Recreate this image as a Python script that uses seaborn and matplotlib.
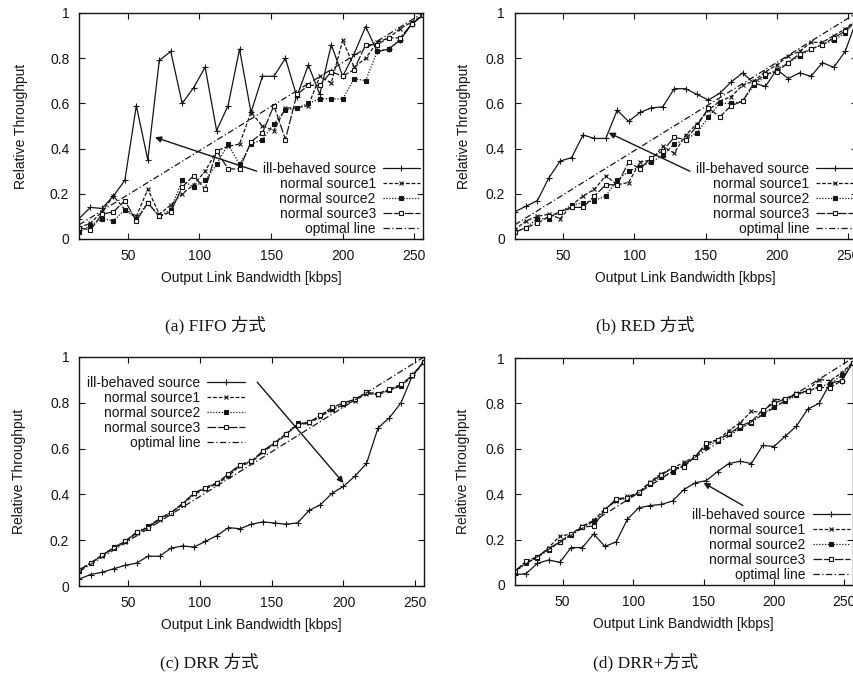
import numpy as np
import pandas as pd
import matplotlib
matplotlib.use("Agg")
import matplotlib.pyplot as plt
import seaborn as sns

sns.set_theme(style="ticks")
plt.rcParams["font.family"] = ["Liberation Sans", "DejaVu Sans"]
plt.rcParams["font.size"] = 10

# ── data ────────────────────────────────────────────────────
bandwidth = [16, 24, 32, 40, 48, 56, 64, 72, 80, 88, 96, 104, 112, 120, 128, 136,
             144, 152, 160, 168, 176, 184, 192, 200, 208, 216, 224, 232, 240, 248, 256]
optimal_x = [16, 256]
optimal_y = [0.0625, 1.0]

fifo_ill = [0.09, 0.14, 0.135, 0.19, 0.26, 0.59, 0.35, 0.79, 0.83, 0.60, 0.67, 0.76, 0.48, 0.59, 0.84, 0.56,
            0.72, 0.72, 0.80, 0.63, 0.77, 0.64, 0.86, 0.72, 0.82, 0.94, 0.83, 0.84, 0.88, 0.95, 0.99]
fifo_src1 = [0.05, 0.07, 0.12, 0.19, 0.13, 0.10, 0.22, 0.11, 0.15, 0.20, 0.24, 0.30, 0.39, 0.41, 0.42, 0.56,
             0.50, 0.48, 0.58, 0.58, 0.59, 0.72, 0.69, 0.88, 0.76, 0.80, 0.87, 0.89, 0.93, 0.96, 0.99]
fifo_src2 = [0.03, 0.06, 0.09, 0.08, 0.13, 0.09, 0.16, 0.10, 0.13, 0.26, 0.23, 0.26, 0.33, 0.42, 0.33, 0.42,
             0.44, 0.51, 0.57, 0.58, 0.60, 0.62, 0.62, 0.62, 0.71, 0.70, 0.83, 0.84, 0.88, 0.95, 0.99]
fifo_src3 = [0.05, 0.04, 0.11, 0.12, 0.17, 0.08, 0.16, 0.10, 0.12, 0.23, 0.28, 0.22, 0.39, 0.31, 0.31, 0.43,
             0.47, 0.59, 0.44, 0.64, 0.68, 0.68, 0.74, 0.72, 0.75, 0.86, 0.86, 0.89, 0.89, 0.95, 0.99]

red_ill = [0.12, 0.145, 0.17, 0.27, 0.345, 0.36, 0.46, 0.445, 0.445, 0.57, 0.52, 0.56, 0.58, 0.585, 0.665, 0.665,
           0.64, 0.615, 0.645, 0.695, 0.735, 0.69, 0.675, 0.75, 0.71, 0.735, 0.72, 0.78, 0.76, 0.83, 0.97]
red_src1 = [0.04, 0.08, 0.10, 0.11, 0.09, 0.15, 0.19, 0.22, 0.28, 0.24, 0.25, 0.34, 0.35, 0.41, 0.38, 0.46,
            0.51, 0.57, 0.61, 0.63, 0.68, 0.70, 0.74, 0.77, 0.81, 0.83, 0.87, 0.87, 0.90, 0.93, 0.97]
red_src2 = [0.03, 0.05, 0.09, 0.09, 0.12, 0.15, 0.16, 0.17, 0.19, 0.26, 0.30, 0.32, 0.34, 0.37, 0.42, 0.44,
            0.47, 0.54, 0.60, 0.60, 0.61, 0.68, 0.72, 0.75, 0.78, 0.81, 0.84, 0.86, 0.88, 0.91, 0.97]
red_src3 = [0.03, 0.05, 0.07, 0.10, 0.12, 0.14, 0.14, 0.19, 0.24, 0.24, 0.34, 0.31, 0.36, 0.39, 0.45, 0.44,
            0.50, 0.58, 0.54, 0.59, 0.61, 0.69, 0.73, 0.74, 0.78, 0.82, 0.84, 0.86, 0.89, 0.92, 0.97]

drr_ill = [0.03, 0.05, 0.06, 0.075, 0.09, 0.10, 0.13, 0.13, 0.165, 0.175, 0.17, 0.195, 0.22, 0.255, 0.25, 0.27,
           0.28, 0.275, 0.27, 0.275, 0.33, 0.355, 0.405, 0.435, 0.48, 0.535, 0.69, 0.735, 0.80, 0.92, 0.98]
drr_src1 = [0.07, 0.10, 0.13, 0.165, 0.19, 0.23, 0.255, 0.29, 0.32, 0.355, 0.40, 0.425, 0.445, 0.48, 0.525, 0.54,
            0.585, 0.62, 0.66, 0.705, 0.71, 0.74, 0.77, 0.79, 0.81, 0.84, 0.835, 0.855, 0.875, 0.915, 0.98]
drr_src2 = [0.065, 0.10, 0.135, 0.17, 0.195, 0.235, 0.26, 0.295, 0.32, 0.36, 0.405, 0.43, 0.45, 0.485, 0.53, 0.545,
            0.59, 0.625, 0.665, 0.71, 0.715, 0.745, 0.775, 0.795, 0.815, 0.845, 0.84, 0.855, 0.875, 0.92, 0.98]
drr_src3 = [0.07, 0.10, 0.135, 0.165, 0.195, 0.235, 0.255, 0.295, 0.32, 0.36, 0.405, 0.43, 0.45, 0.49, 0.53, 0.545,
            0.59, 0.625, 0.665, 0.705, 0.715, 0.745, 0.78, 0.80, 0.815, 0.845, 0.84, 0.86, 0.88, 0.92, 0.98]

drrp_ill = [0.045, 0.05, 0.095, 0.11, 0.10, 0.165, 0.165, 0.225, 0.17, 0.19, 0.29, 0.34, 0.35, 0.355, 0.37, 0.42,
            0.45, 0.46, 0.50, 0.535, 0.545, 0.535, 0.615, 0.61, 0.655, 0.70, 0.775, 0.80, 0.89, 0.90, 0.98]
drrp_src1 = [0.06, 0.10, 0.12, 0.165, 0.215, 0.225, 0.26, 0.285, 0.335, 0.37, 0.39, 0.405, 0.455, 0.49, 0.515, 0.54,
             0.565, 0.62, 0.64, 0.68, 0.715, 0.765, 0.76, 0.815, 0.82, 0.845, 0.855, 0.905, 0.90, 0.935, 0.98]
drrp_src2 = [0.055, 0.095, 0.12, 0.155, 0.19, 0.22, 0.255, 0.28, 0.33, 0.375, 0.38, 0.405, 0.445, 0.475, 0.50, 0.525,
             0.565, 0.61, 0.635, 0.665, 0.69, 0.715, 0.755, 0.785, 0.81, 0.835, 0.855, 0.875, 0.885, 0.925, 0.98]
drrp_src3 = [0.06, 0.105, 0.125, 0.16, 0.19, 0.225, 0.255, 0.26, 0.33, 0.38, 0.385, 0.41, 0.45, 0.485, 0.515, 0.52,
             0.565, 0.625, 0.64, 0.665, 0.70, 0.72, 0.77, 0.80, 0.82, 0.84, 0.855, 0.87, 0.87, 0.90, 0.98]

series_labels = ["ill-behaved source", "normal source1", "normal source2", "normal source3"]
captions = ["(a) FIFO 方式", "(b) RED 方式", "(c) DRR 方式", "(d) DRR+方式"]
y_ticks = [0, 0.2, 0.4, 0.6, 0.8, 1]
y_ticklabels = ["0", "0.2", "0.4", "0.6", "0.8", "1"]
x_ticks = [50, 100, 150, 200, 250]

panels = [
    [fifo_ill, fifo_src1, fifo_src2, fifo_src3],
    [red_ill, red_src1, red_src2, red_src3],
    [drr_ill, drr_src1, drr_src2, drr_src3],
    [drrp_ill, drrp_src1, drrp_src2, drrp_src3],
]

# ── styling ────────────────────────────────────────────────
INK = "#151515"
styles = [
    dict(linestyle="-", marker="+", markersize=4, mfc=INK),
    dict(linestyle=(0, (3, 1.5)), marker="x", markersize=3.5, mfc=INK),
    dict(linestyle=(0, (1, 1.3)), marker="s", markersize=2.5, mfc=INK),
    dict(linestyle=(0, (7, 1.5)), marker="s", markersize=3.5, mfc="white"),
]
opt_style = dict(linestyle=(0, (5, 2, 1, 2)))

# axes rectangles in figure fractions (854 x 686 px)
W, H = 854, 686
rects = [
    (79 / W, 1 - 239 / H, 344 / W, 226 / H),
    (514.6 / W, 1 - 239 / H, 342 / W, 226 / H),
    (79 / W, 1 - 586 / H, 345 / W, 229 / H),
    (514.8 / W, 1 - 585 / H, 338 / W, 227 / H),
]
ylab_x = [-0.148, -0.128, -0.154, -0.132]
caption_pos = [(215, 325), (645, 325), (209, 662), (646, 662)]
# arrows: (tail, head) in data coordinates
arrows = [((140, 0.30), (69, 0.45)),
          ((139, 0.30), (82, 0.47)),
          ((140, 0.89), (200, 0.45)),
          ((178, 0.35), (150, 0.45))]

fig = plt.figure(figsize=(W / 100, H / 100), dpi=100)

for i, data in enumerate(panels):
    ax = fig.add_axes(rects[i])
    for j, ys in enumerate(data):
        st = styles[j]
        sns.lineplot(x=bandwidth, y=ys, ax=ax, color=INK, linewidth=0.9,
                     linestyle=st["linestyle"], marker=st["marker"],
                     markersize=st["markersize"], markerfacecolor=st["mfc"],
                     markeredgecolor=INK, markeredgewidth=0.8,
                     estimator=None, sort=False, label=series_labels[j],
                     legend=False)
    sns.lineplot(x=optimal_x, y=optimal_y, ax=ax, color=INK, linewidth=0.9,
                 linestyle=opt_style["linestyle"], estimator=None, sort=False,
                 label="optimal line", legend=False)

    ax.set_xlim(16, 256)
    ax.set_ylim(0, 1)
    ax.set_xticks(x_ticks)
    ax.set_yticks(y_ticks)
    ax.set_yticklabels(y_ticklabels)
    ax.tick_params(direction="in", top=True, right=True, length=4, width=0.8,
                   labelsize=10, colors=INK, pad=7)
    for sp in ax.spines.values():
        sp.set_linewidth(1.0)
        sp.set_color(INK)
    ax.set_xlabel("Output Link Bandwidth [kbps]", fontsize=10, color=INK)
    ax.set_ylabel("Relative Throughput", fontsize=10, color=INK)
    ax.xaxis.set_label_coords(0.5, -0.14)
    ax.yaxis.set_label_coords(ylab_x[i], 0.5)

    # gnuplot-style key: label first, sample line after, right aligned
    handles, labels = ax.get_legend_handles_labels()
    kw = dict(frameon=False, markerfirst=False, fontsize=10, handlelength=2.7,
              handletextpad=0.5, labelspacing=0.08, borderpad=0.15,
              borderaxespad=0.05, numpoints=1)
    if i == 2:
        leg = ax.legend(handles, labels, loc="upper left",
                        bbox_to_anchor=(0.015, 0.93), **kw)
    else:
        leg = ax.legend(handles, labels, loc="lower right", **kw)
    for t in leg.get_texts():
        t.set_color(INK)

    tail, head = arrows[i]
    ax.annotate("", xy=head, xytext=tail,
                arrowprops=dict(arrowstyle="-|>", color=INK, lw=1.0,
                                mutation_scale=9, shrinkA=0, shrinkB=0))

    cx, cy = caption_pos[i]
    fig.text(cx / W, 1 - cy / H, captions[i], ha="center", va="center",
             fontsize=12.5, color=INK,
             family=["Liberation Serif", "Noto Sans CJK JP"])

fig.savefig("out.png", dpi=100)
